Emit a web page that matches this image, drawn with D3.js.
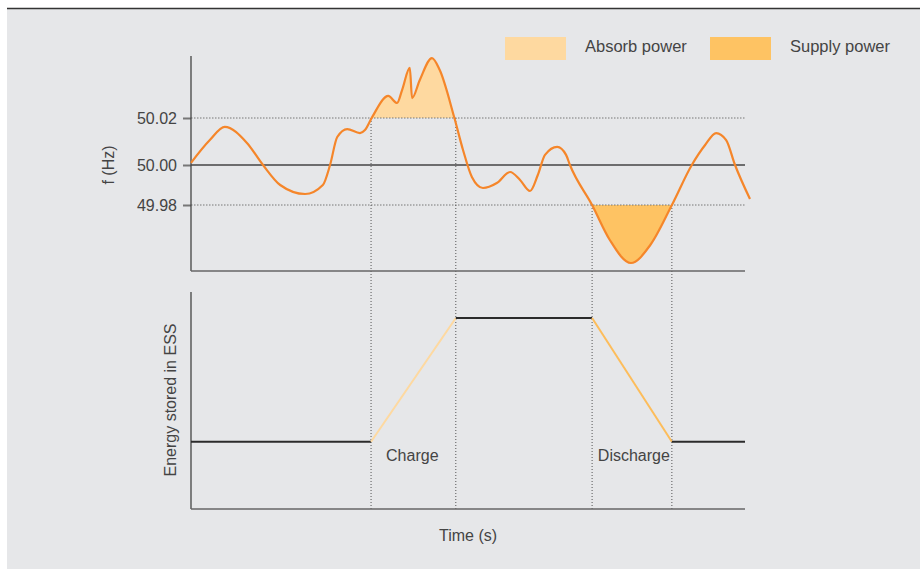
<!DOCTYPE html>
<html><head><meta charset="utf-8">
<script src="https://cdn.jsdelivr.net/npm/d3@7"></script>
<style>
html,body{margin:0;padding:0;background:#fff;}
text{font-family:"Liberation Sans",Arial,Helvetica,sans-serif;fill:#444;}
</style></head>
<body>
<svg id="c" width="920" height="569"></svg>
<script>
// ---- data ----
const freqTickLabels = ["50.02", "50.00", "49.98"];
const freqTicks = [50.02, 50.00, 49.98];
const timePoints = [0, 3.4, 6.1, 10.1, 13.0, 16.1, 20.6, 23.8, 25.1, 26.4, 28.2, 30.5, 31.4, 32.7, 35.6, 37.2, 38.1, 39.5, 39.9, 41.3, 43.5, 44.9, 47.5, 49.1, 50.7, 52.7, 55.2, 57.6, 59.4, 61.2, 62.6, 63.9, 66.1, 67.7, 68.4, 72.4, 75.6, 79.4, 82.9, 86.8, 90.4, 92.8, 94.8, 96.6, 98.2, 100.9];
const freqValues = [50.0009, 50.0106, 50.0162, 50.0094, 50.000, 49.990, 49.9855, 49.990, 50.000, 50.0119, 50.0153, 50.0136, 50.0149, 50.0204, 50.0294, 50.0264, 50.0319, 50.0413, 50.0285, 50.0362, 50.0455, 50.0404, 50.0204, 50.0064, 49.994, 49.9885, 49.991, 49.9965, 49.9925, 49.987, 49.995, 50.0043, 50.0077, 50.0043, 50.000, 49.980, 49.9625, 49.951, 49.960, 49.980, 50.000, 50.0085, 50.0136, 50.0106, 50.000, 49.983];
const eventTimes = [32.5, 47.8, 72.4, 86.8];          // charge start/end, discharge start/end
const energyTimes = [0, 32.5, 47.8, 72.4, 86.8, 100];
const energyValues = [0.31, 0.31, 0.88, 0.88, 0.31, 0.31];
const energySegmentKinds = ["idle", "charge", "idle", "discharge", "idle"];
const legendLabels = ["Absorb power", "Supply power"];
const phaseLabels = ["Charge", "Discharge"];

const colors = {absorb: "#fed9a0", supply: "#fec363", line: "#f5862a", idle: "#2b2b2b", charge: "#fed9a0", discharge: "#fdbd5b"};
const FS = 16;

const svg = d3.select("#c");
// background
svg.append("rect").attr("x", 7).attr("y", 9).attr("width", 913).attr("height", 560).attr("fill", "#e6e7e9");
svg.append("line").attr("x1", 7).attr("x2", 920).attr("y1", 8.5).attr("y2", 8.5).attr("stroke", "#333").attr("stroke-width", 1.5);

// scales
const x = d3.scaleLinear().domain([0, 100]).range([191, 745]);
const yF = d3.scaleLinear().domain([49.98, 50.00, 50.02]).range([205, 165, 118]);
const topBottom = 271, topTop = 56;
const yE = d3.scaleLinear().domain([0, 1]).range([509, 292]);

const pts = timePoints.map((t, i) => ({t, f: freqValues[i]}));
const curve = d3.curveMonotoneX;

// clip paths
const defs = svg.append("defs");
defs.append("clipPath").attr("id", "above").append("rect")
  .attr("x", 0).attr("y", 0).attr("width", 920).attr("height", yF(50.02));
defs.append("clipPath").attr("id", "below").append("rect")
  .attr("x", 0).attr("y", yF(49.98)).attr("width", 920).attr("height", 400);

// fills
svg.append("path").datum(pts).attr("clip-path", "url(#above)")
  .attr("fill", colors.absorb)
  .attr("d", d3.area().curve(curve).x(d => x(d.t)).y0(yF(50.02)).y1(d => yF(d.f)));
svg.append("path").datum(pts).attr("clip-path", "url(#below)")
  .attr("fill", colors.supply)
  .attr("d", d3.area().curve(curve).x(d => x(d.t)).y0(yF(49.98)).y1(d => yF(d.f)));

// reference lines
[50.02, 49.98].forEach(v => {
  svg.append("line").attr("x1", x(0)).attr("x2", x(100)).attr("y1", yF(v)).attr("y2", yF(v))
    .attr("stroke", "#777").attr("stroke-width", 1).attr("stroke-dasharray", "1.5,1.5");
});
svg.append("line").attr("x1", x(0)).attr("x2", x(100)).attr("y1", yF(50)).attr("y2", yF(50))
  .attr("stroke", "#444").attr("stroke-width", 1.3);

// vertical event lines
eventTimes.forEach((t, i) => {
  const yStart = i < 2 ? yF(50.02) : yF(49.98);
  svg.append("line").attr("x1", x(t)).attr("x2", x(t)).attr("y1", yStart).attr("y2", yE(0))
    .attr("stroke", "#555").attr("stroke-width", 1).attr("stroke-dasharray", "1,2");
});

// top axes
const ax = d3.axisLeft(yF).tickValues(freqTicks).tickSize(8).tickPadding(6)
  .tickFormat((d, i) => freqTickLabels[i]);
const gA = svg.append("g").attr("transform", `translate(${x(0)},0)`).call(ax);
gA.select(".domain").remove();
gA.selectAll(".tick line").attr("stroke", "#777").attr("stroke-width", 2);
gA.selectAll(".tick text").attr("font-size", FS).attr("fill", "#444")
  .attr("font-family", '"Liberation Sans",Arial,sans-serif');
svg.append("line").attr("x1", x(0)).attr("x2", x(0)).attr("y1", topTop).attr("y2", topBottom)
  .attr("stroke", "#444").attr("stroke-width", 1.3);
svg.append("line").attr("x1", x(0)).attr("x2", x(100)).attr("y1", topBottom).attr("y2", topBottom)
  .attr("stroke", "#666").attr("stroke-width", 1.3);

// frequency curve
svg.append("path").datum(pts).attr("fill", "none").attr("stroke", colors.line).attr("stroke-width", 2.2)
  .attr("d", d3.line().curve(curve).x(d => x(d.t)).y(d => yF(d.f)));

svg.append("text").attr("transform", `translate(114,${yF(50)}) rotate(-90)`)
  .attr("text-anchor", "middle").attr("font-size", FS).text("f (Hz)");

// bottom axes
svg.append("line").attr("x1", x(0)).attr("x2", x(0)).attr("y1", yE(1)).attr("y2", yE(0))
  .attr("stroke", "#444").attr("stroke-width", 1.3);
svg.append("line").attr("x1", x(0)).attr("x2", x(100)).attr("y1", yE(0)).attr("y2", yE(0))
  .attr("stroke", "#666").attr("stroke-width", 1.3);

// energy segments
energySegmentKinds.forEach((k, i) => {
  svg.append("line")
    .attr("x1", x(energyTimes[i])).attr("x2", x(energyTimes[i + 1]))
    .attr("y1", yE(energyValues[i])).attr("y2", yE(energyValues[i + 1]))
    .attr("stroke", colors[k]).attr("stroke-width", 2);
});

svg.append("text").attr("x", x(eventTimes[0]) + 15).attr("y", yE(energyValues[1]) + 19)
  .attr("font-size", FS).text(phaseLabels[0]);
svg.append("text").attr("x", x(eventTimes[3]) - 2).attr("y", yE(energyValues[4]) + 19)
  .attr("text-anchor", "end").attr("font-size", FS).text(phaseLabels[1]);

svg.append("text").attr("transform", `translate(176,400) rotate(-90)`)
  .attr("text-anchor", "middle").attr("font-size", FS).text("Energy stored in ESS");

svg.append("text").attr("x", 468).attr("y", 541).attr("text-anchor", "middle")
  .attr("font-size", FS).text("Time (s)");

// legend
const legendX = [505, 710];
legendLabels.forEach((l, i) => {
  svg.append("rect").attr("x", legendX[i]).attr("y", 37).attr("width", 61).attr("height", 23)
    .attr("fill", i === 0 ? colors.absorb : colors.supply);
  svg.append("text").attr("x", legendX[i] + 80).attr("y", 52).attr("font-size", 16.5).text(l);
});
</script>
</body></html>
